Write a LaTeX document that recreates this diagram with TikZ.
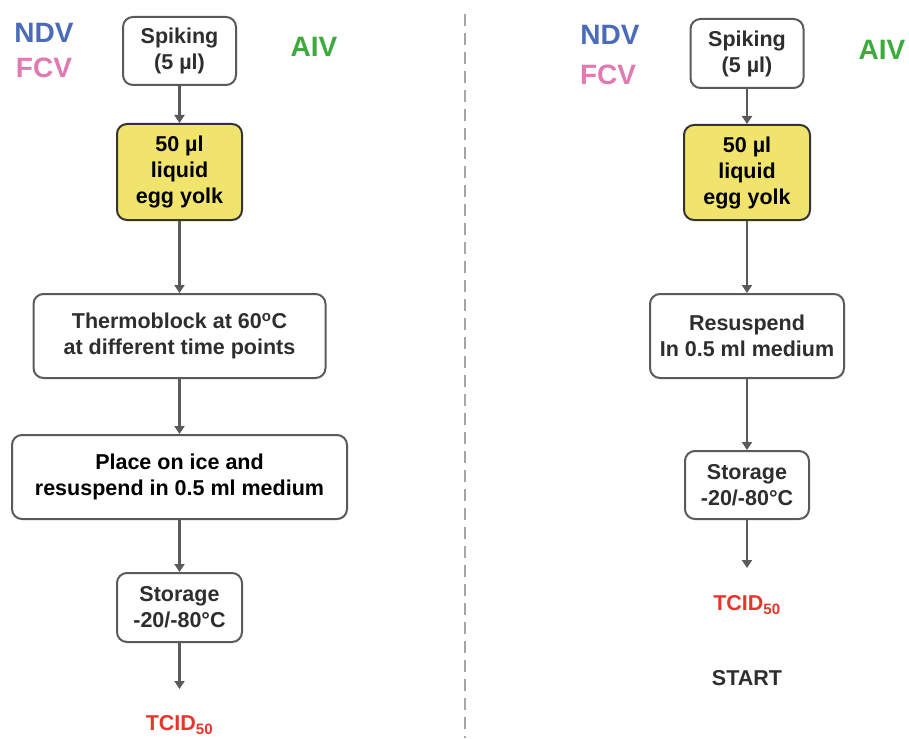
\documentclass[tikz,border=0pt]{standalone}
\usepackage{fontspec}
\setmainfont{Liberation Sans}
\usetikzlibrary{arrows.meta}
\definecolor{ndvblue}{HTML}{4A6CB8}
\definecolor{fcvpink}{HTML}{E07AB2}
\definecolor{aivgreen}{HTML}{3DAA3D}
\definecolor{tcidred}{HTML}{E8352B}
\definecolor{txtgray}{HTML}{2E2E2E}
\definecolor{edgegray}{HTML}{5A5A5A}
\definecolor{yolk}{HTML}{F1E46C}
\begin{document}
\begin{tikzpicture}[x=1pt,y=-1pt,
  stepbox/.style={draw=edgegray, line width=2pt, rounded corners=10pt, fill=white,
    align=center, inner sep=2pt, text=txtgray,
    font=\fontsize{21.5}{26}\selectfont\bfseries},
  yolkbox/.style={stepbox, fill=yolk, draw=black!80, text=black},
  flow/.style={draw=edgegray, line width=2.4pt,
    -{Triangle[width=10pt,length=8pt]}},
  virus/.style={font=\fontsize{28}{30}\selectfont\bfseries},
  result/.style={font=\fontsize{21.5}{24}\selectfont\bfseries}]
\useasboundingbox (0,0) rectangle (909,738);

% separator between the two protocols
\draw[gray!70, line width=1.5pt, dash pattern=on 12pt off 7pt] (465,14) -- (465,738);

% ---- left protocol: heat treatment ----
\node[virus, text=ndvblue] (lndv) at (44,33) {NDV};
\node[virus, text=fcvpink] (lfcv) at (44,68) {FCV};
\node[virus, text=aivgreen] (laiv) at (314,47) {AIV};

\node[stepbox, minimum width=113pt, minimum height=68pt] (lspike) at (179.5,51) {Spiking\\(5 µl)};
\node[yolkbox, minimum width=125pt, minimum height=96pt] (lyolk) at (179.5,172) {50 µl\\liquid\\egg yolk};
\node[stepbox, minimum width=292pt, minimum height=84pt] (lheat) at (179.5,336) {Thermoblock at 60\textsuperscript{o}C\\at different time points};
\node[stepbox, text=black, minimum width=335pt, minimum height=84pt] (lice) at (179.5,477) {Place on ice and\\resuspend in 0.5 ml medium};
\node[stepbox, minimum width=125pt, minimum height=69pt] (lstore) at (179.5,607.5) {Storage\\-20/-80°C};
\coordinate (lend) at (179.5,689);
\node[result, text=tcidred] (ltcid) at (179.5,725) {TCID\textsubscript{50}};

\draw[flow] (lspike) -- (lyolk);
\draw[flow] (lyolk) -- (lheat);
\draw[flow] (lheat) -- (lice);
\draw[flow] (lice) -- (lstore);
\draw[flow] (lstore) -- (lend);

% ---- right protocol: untreated control ----
\node[virus, text=ndvblue] (rndv) at (610,35) {NDV};
\node[virus, text=fcvpink] (rfcv) at (608,75) {FCV};
\node[virus, text=aivgreen] (raiv) at (882,50) {AIV};

\node[stepbox, minimum width=113pt, minimum height=69pt] (rspike) at (747,53.5) {Spiking\\(5 µl)};
\node[yolkbox, minimum width=126pt, minimum height=95pt] (ryolk) at (747,172.5) {50 µl\\liquid\\egg yolk};
\node[stepbox, minimum width=194pt, minimum height=84pt] (rsusp) at (747,336) {Resuspend\\In 0.5 ml medium};
\node[stepbox, minimum width=124pt, minimum height=68pt] (rstore) at (747,485) {Storage\\-20/-80°C};
\coordinate (rend) at (747,568);
\node[result, text=tcidred] (rtcid) at (747,605) {TCID\textsubscript{50}};
\node[result, text=txtgray] (rstart) at (747,678) {START};

\draw[flow] (rspike) -- (ryolk);
\draw[flow] (ryolk) -- (rsusp);
\draw[flow] (rsusp) -- (rstore);
\draw[flow] (rstore) -- (rend);
\end{tikzpicture}
\end{document}
